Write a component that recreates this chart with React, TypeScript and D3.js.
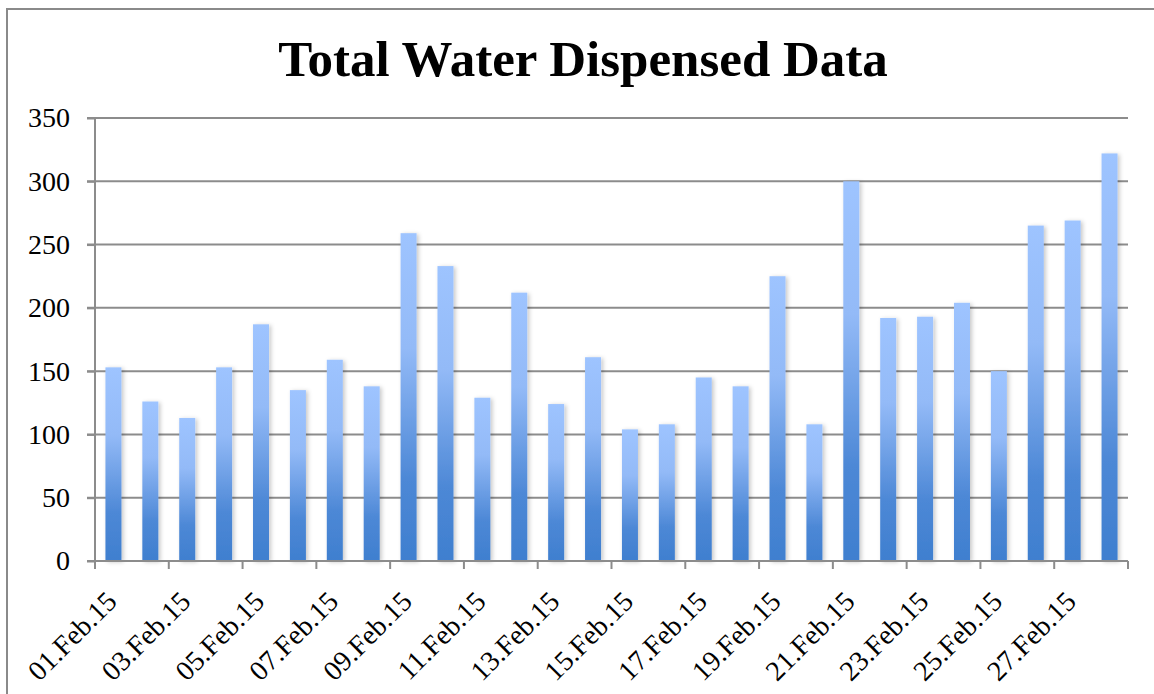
import React, { useEffect, useRef } from "react";
import * as d3 from "d3";

// categories (one per day)
const days = [
  "01.Feb.15", "02.Feb.15", "03.Feb.15", "04.Feb.15", "05.Feb.15", "06.Feb.15", "07.Feb.15",
  "08.Feb.15", "09.Feb.15", "10.Feb.15", "11.Feb.15", "12.Feb.15", "13.Feb.15", "14.Feb.15",
  "15.Feb.15", "16.Feb.15", "17.Feb.15", "18.Feb.15", "19.Feb.15", "20.Feb.15", "21.Feb.15",
  "22.Feb.15", "23.Feb.15", "24.Feb.15", "25.Feb.15", "26.Feb.15", "27.Feb.15", "28.Feb.15",
];

// total water dispensed per day
const dispensed = [
  153, 126, 113, 153, 187, 135, 159, 138, 259, 233, 129, 212, 124, 161,
  104, 108, 145, 138, 225, 108, 300, 192, 193, 204, 150, 265, 269, 322,
];

const yTicks = [0, 50, 100, 150, 200, 250, 300, 350];

const title = "Total Water Dispensed Data";

const App = () => {
  const svgRef = useRef<SVGSVGElement | null>(null);

  useEffect(() => {
    document.body.style.margin = "0";

    const width = 1154;
    const height = 694;
    const plot = { left: 95, right: 1128, top: 118, bottom: 561 };
    const font = "'Liberation Serif', 'DejaVu Serif', serif";
    const gridColor = "#8c8c8c";

    const x = d3
      .scaleBand<string>()
      .domain(days)
      .range([plot.left, plot.right])
      .paddingInner(0.566)
      .paddingOuter(0.283);
    const y = d3.scaleLinear().domain([0, 350]).range([plot.bottom, plot.top]);

    const svg = d3.select(svgRef.current);
    svg.selectAll("*").remove();
    svg.attr("width", width).attr("height", height);

    const defs = svg.append("defs");
    const grad = defs
      .append("linearGradient")
      .attr("id", "barFill")
      .attr("x1", 0)
      .attr("y1", 0)
      .attr("x2", 0)
      .attr("y2", 1);
    grad.append("stop").attr("offset", "0").attr("stop-color", "#9ec4ff");
    grad.append("stop").attr("offset", "0.35").attr("stop-color", "#93baf7");
    grad.append("stop").attr("offset", "0.75").attr("stop-color", "#4d88d6");
    grad.append("stop").attr("offset", "1").attr("stop-color", "#3f7fcf");

    const shadow = defs
      .append("filter")
      .attr("id", "barShadow")
      .attr("x", "-50%")
      .attr("y", "-10%")
      .attr("width", "200%")
      .attr("height", "120%");
    shadow
      .append("feDropShadow")
      .attr("dx", 2)
      .attr("dy", 1)
      .attr("stdDeviation", 2)
      .attr("flood-color", "#000")
      .attr("flood-opacity", 0.22);

    // background + chart border
    svg.append("rect").attr("width", width).attr("height", height).attr("fill", "#fff");
    svg
      .append("rect")
      .attr("x", 7)
      .attr("y", 9)
      .attr("width", 1200)
      .attr("height", 800)
      .attr("fill", "none")
      .attr("stroke", "#8a8a8a")
      .attr("stroke-width", 2);

    // title
    svg
      .append("text")
      .attr("x", 583)
      .attr("y", 76)
      .attr("text-anchor", "middle")
      .style("font-family", font)
      .style("font-weight", "bold")
      .style("font-size", "51px")
      .style("fill", "#000")
      .text(title);

    // gridlines
    svg
      .append("g")
      .selectAll("line")
      .data(yTicks.filter((t) => t > 0))
      .enter()
      .append("line")
      .attr("x1", plot.left - 8)
      .attr("x2", plot.right)
      .attr("y1", (d) => y(d))
      .attr("y2", (d) => y(d))
      .attr("stroke", gridColor)
      .attr("stroke-width", 2);

    // bars
    svg
      .append("g")
      .selectAll("rect")
      .data(dispensed)
      .enter()
      .append("rect")
      .attr("x", (_, i) => x(days[i]) as number)
      .attr("y", (d) => y(d))
      .attr("width", x.bandwidth())
      .attr("height", (d) => plot.bottom - y(d))
      .attr("fill", "url(#barFill)")
      .attr("filter", "url(#barShadow)");

    // y axis
    const yAxis = d3
      .axisLeft(y)
      .tickValues(yTicks)
      .tickSize(8)
      .tickPadding(17)
      .tickFormat(d3.format("d"));
    const gy = svg.append("g").attr("transform", `translate(${plot.left},0)`).call(yAxis);
    gy.select(".domain")
      .attr("d", `M0,${plot.top}V${plot.bottom + 8}`)
      .attr("stroke", gridColor)
      .attr("stroke-width", 2);
    gy.selectAll(".tick line").attr("stroke", gridColor).attr("stroke-width", 2);
    gy.selectAll("text")
      .style("font-family", font)
      .style("font-size", "28px")
      .style("fill", "#000");

    // x axis: baseline + tick marks every 2 days
    const step = x.step();
    svg
      .append("line")
      .attr("x1", plot.left - 8)
      .attr("x2", plot.right)
      .attr("y1", plot.bottom)
      .attr("y2", plot.bottom)
      .attr("stroke", gridColor)
      .attr("stroke-width", 2);
    svg
      .append("g")
      .selectAll("line")
      .data(d3.range(0, days.length + 1, 2))
      .enter()
      .append("line")
      .attr("x1", (i) => plot.left + i * step)
      .attr("x2", (i) => plot.left + i * step)
      .attr("y1", plot.bottom)
      .attr("y2", plot.bottom + 8)
      .attr("stroke", gridColor)
      .attr("stroke-width", 2);

    // x labels, every other day, rotated
    svg
      .append("g")
      .selectAll("text")
      .data(days.filter((_, i) => i % 2 === 0))
      .enter()
      .append("text")
      .attr("text-anchor", "end")
      .attr(
        "transform",
        (d) => `translate(${(x(d) as number) + x.bandwidth() / 2 + 5},${plot.bottom + 42}) rotate(-45)`
      )
      .style("font-family", font)
      .style("font-size", "28px")
      .style("fill", "#000")
      .text((d) => d);
  }, []);

  return (
    <div>
      <svg ref={svgRef} style={{ display: "block" }}></svg>
    </div>
  );
};

export default App;
